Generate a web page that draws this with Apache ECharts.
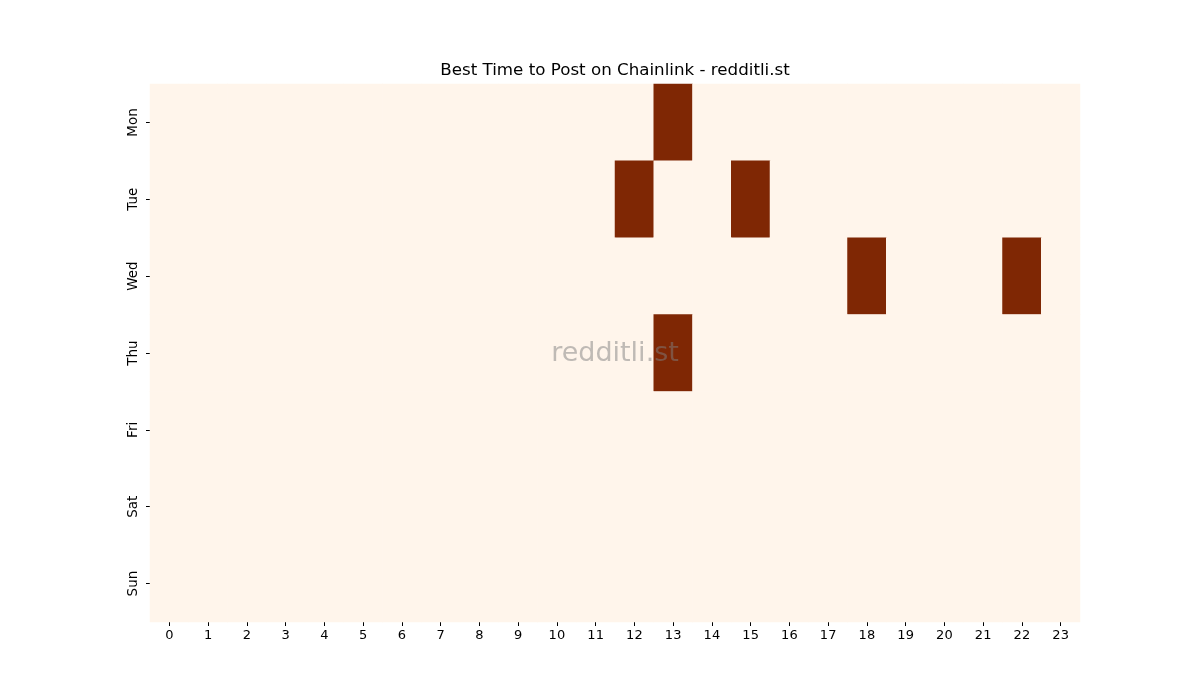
<!DOCTYPE html>
<html>
<head>
<meta charset="utf-8">
<script src="https://cdn.jsdelivr.net/npm/echarts@6/dist/echarts.min.js"></script>
<style>html,body{margin:0;padding:0;background:#fff}#c{width:1200px;height:700px}</style>
</head>
<body>
<div id="c"></div>
<script>
const hours = ['0','1','2','3','4','5','6','7','8','9','10','11','12','13','14','15','16','17','18','19','20','21','22','23'];
const days = ['Mon','Tue','Wed','Thu','Fri','Sat','Sun'];
// active cells: [hour, dayIndex, value]
const hotCells = [[13,0,1],[12,1,1],[15,1,1],[18,2,1],[22,2,1],[13,3,1]];

const data = [];
for (let d = 0; d < days.length; d++) {
  for (let h = 0; h < hours.length; h++) {
    const hit = hotCells.find(c => c[0] === h && c[1] === d);
    data.push([h, d, hit ? hit[2] : 0]);
  }
}

const chart = echarts.init(document.getElementById('c'));
const font = 'DejaVu Sans';
chart.setOption({
  animation: false,
  backgroundColor: '#ffffff',
  grid: {left: 150, right: 120, top: 84, bottom: 78},
  xAxis: {
    type: 'category', data: hours,
    axisLine: {show: false},
    axisTick: {show: true, alignWithLabel: true, length: 4, lineStyle: {color: '#000'}},
    axisLabel: {fontFamily: font, fontSize: 13, color: '#000', margin: 7},
    splitLine: {show: false}
  },
  yAxis: {
    type: 'category', data: days, inverse: true,
    axisLine: {show: false},
    axisTick: {show: true, alignWithLabel: true, length: 4, lineStyle: {color: '#000'}},
    axisLabel: {fontFamily: font, fontSize: 13.5, color: '#000', rotate: 90, margin: 10},
    splitLine: {show: false}
  },
  visualMap: {
    show: false, min: 0, max: 1, dimension: 2,
    inRange: {color: ['#fff5eb', '#7f2704']}
  },
  series: [{
    type: 'heatmap', data: data,
    itemStyle: {borderWidth: 0},
    emphasis: {disabled: true}
  }],
  graphic: [{
    type: 'text', x: 615, y: 71, z: 100,
    style: {text: 'Best Time to Post on Chainlink - redditli.st', fontFamily: font, fontSize: 16.7,
            fill: '#000', align: 'center', verticalAlign: 'middle'}
  }, {
    type: 'text', x: 615, y: 354, z: 100,
    style: {text: 'redditli.st', fontFamily: font, fontSize: 27, fill: 'rgba(128,128,128,0.5)',
            align: 'center', verticalAlign: 'middle'}
  }]
});
</script>
</body>
</html>
